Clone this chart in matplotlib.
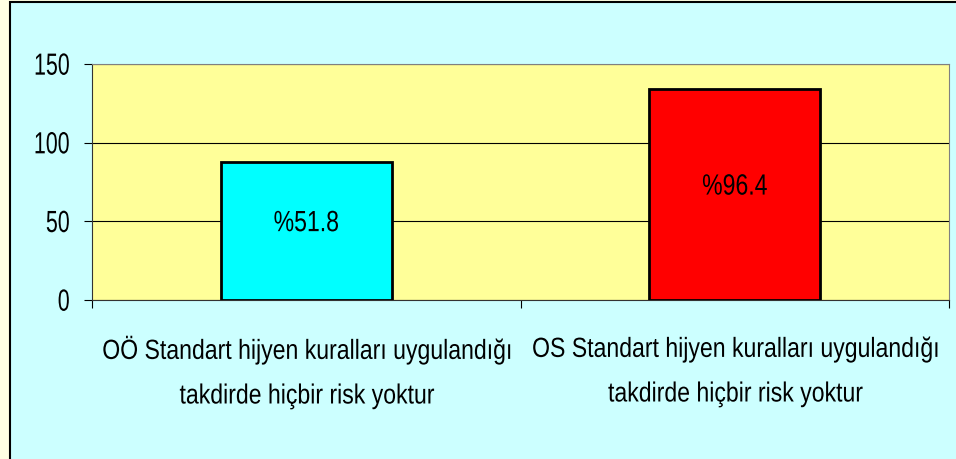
import matplotlib
matplotlib.use("Agg")
import matplotlib.pyplot as plt
from matplotlib.patches import Rectangle
from matplotlib.patheffects import AbstractPathEffect
from matplotlib.transforms import Affine2D

categories = ["OÖ Standart hijyen kuralları uygulandığı\ntakdirde hiçbir risk yoktur",
              "OS Standart hijyen kuralları uygulandığı\ntakdirde hiçbir risk yoktur"]
values = [87.5, 134]
labels = ["%51.8", "%96.4"]
colors = ["#00FFFF", "#FF0000"]
yticks = [0, 50, 100, 150]

plt.rcParams["font.family"] = ["Liberation Sans", "DejaVu Sans"]


class Tall(AbstractPathEffect):
    """stretch glyphs vertically, so the text looks like the narrow Arial of the original"""

    def __init__(self, sy, around="middle"):
        super().__init__()
        self.sy = sy
        self.around = around

    def draw_path(self, renderer, gc, tpath, affine, rgbFace=None):
        if self.around == "baseline":
            cy = affine.transform((0, 0))[1]
        else:
            bb = tpath.get_extents(affine)
            cy = (bb.y0 + bb.y1) / 2
        stretch = Affine2D().translate(0, -cy).scale(1, self.sy).translate(0, cy)
        renderer.draw_path(gc, tpath, affine + stretch, rgbFace)


fig = plt.figure(figsize=(9.56, 4.6), dpi=100, facecolor="#FFFFE3")
fig.patches.append(Rectangle((10 / 956, -0.1), 1.2, 1.1 - 3 / 460, transform=fig.transFigure,
                             facecolor="#CCFFFF", edgecolor="black", linewidth=1.5, zorder=-5))

ax = fig.add_axes([92 / 956, 1 - 301 / 460, 857 / 956, 236 / 460])
ax.set_facecolor("#FFFF99")
x = range(len(values))
ax.bar(x, values, width=0.4, color=colors, edgecolor="black", linewidth=2, zorder=3)
for i, (v, t) in enumerate(zip(values, labels)):
    ax.text(i, v / 2 + 5.5, t, ha="center", va="center", fontsize=16.6, zorder=4,
            path_effects=[Tall(1.27)])

ax.set_xlim(-0.5, 1.5)
ax.set_ylim(0, 150)
ax.set_yticks(yticks)
ax.set_yticklabels([str(t) for t in yticks], fontsize=15.4)
for lab in ax.get_yticklabels():
    lab.set_path_effects([Tall(1.43)])
ax.yaxis.grid(True, color="black", linewidth=0.8, zorder=1)
ax.set_axisbelow(True)
ax.set_xticks([-0.5, 0.5, 1.5])
ax.set_xticklabels([])
ax.set_xticks([0, 1], minor=True)
ax.set_xticklabels(categories, minor=True, fontsize=16.6, linespacing=2.2)
for lab in ax.get_xticklabels(minor=True):
    lab.set_path_effects([Tall(1.2, "baseline")])
ax.tick_params(axis="x", which="minor", length=0, pad=28)
ax.tick_params(axis="x", which="major", length=6, direction="out")
ax.tick_params(axis="y", length=6, direction="out", pad=10)
for s in ["top", "right"]:
    ax.spines[s].set_color("#808080")
for s in ["left", "bottom"]:
    ax.spines[s].set_color("#333333")

fig.savefig("out.png", dpi=100, facecolor=fig.get_facecolor())
